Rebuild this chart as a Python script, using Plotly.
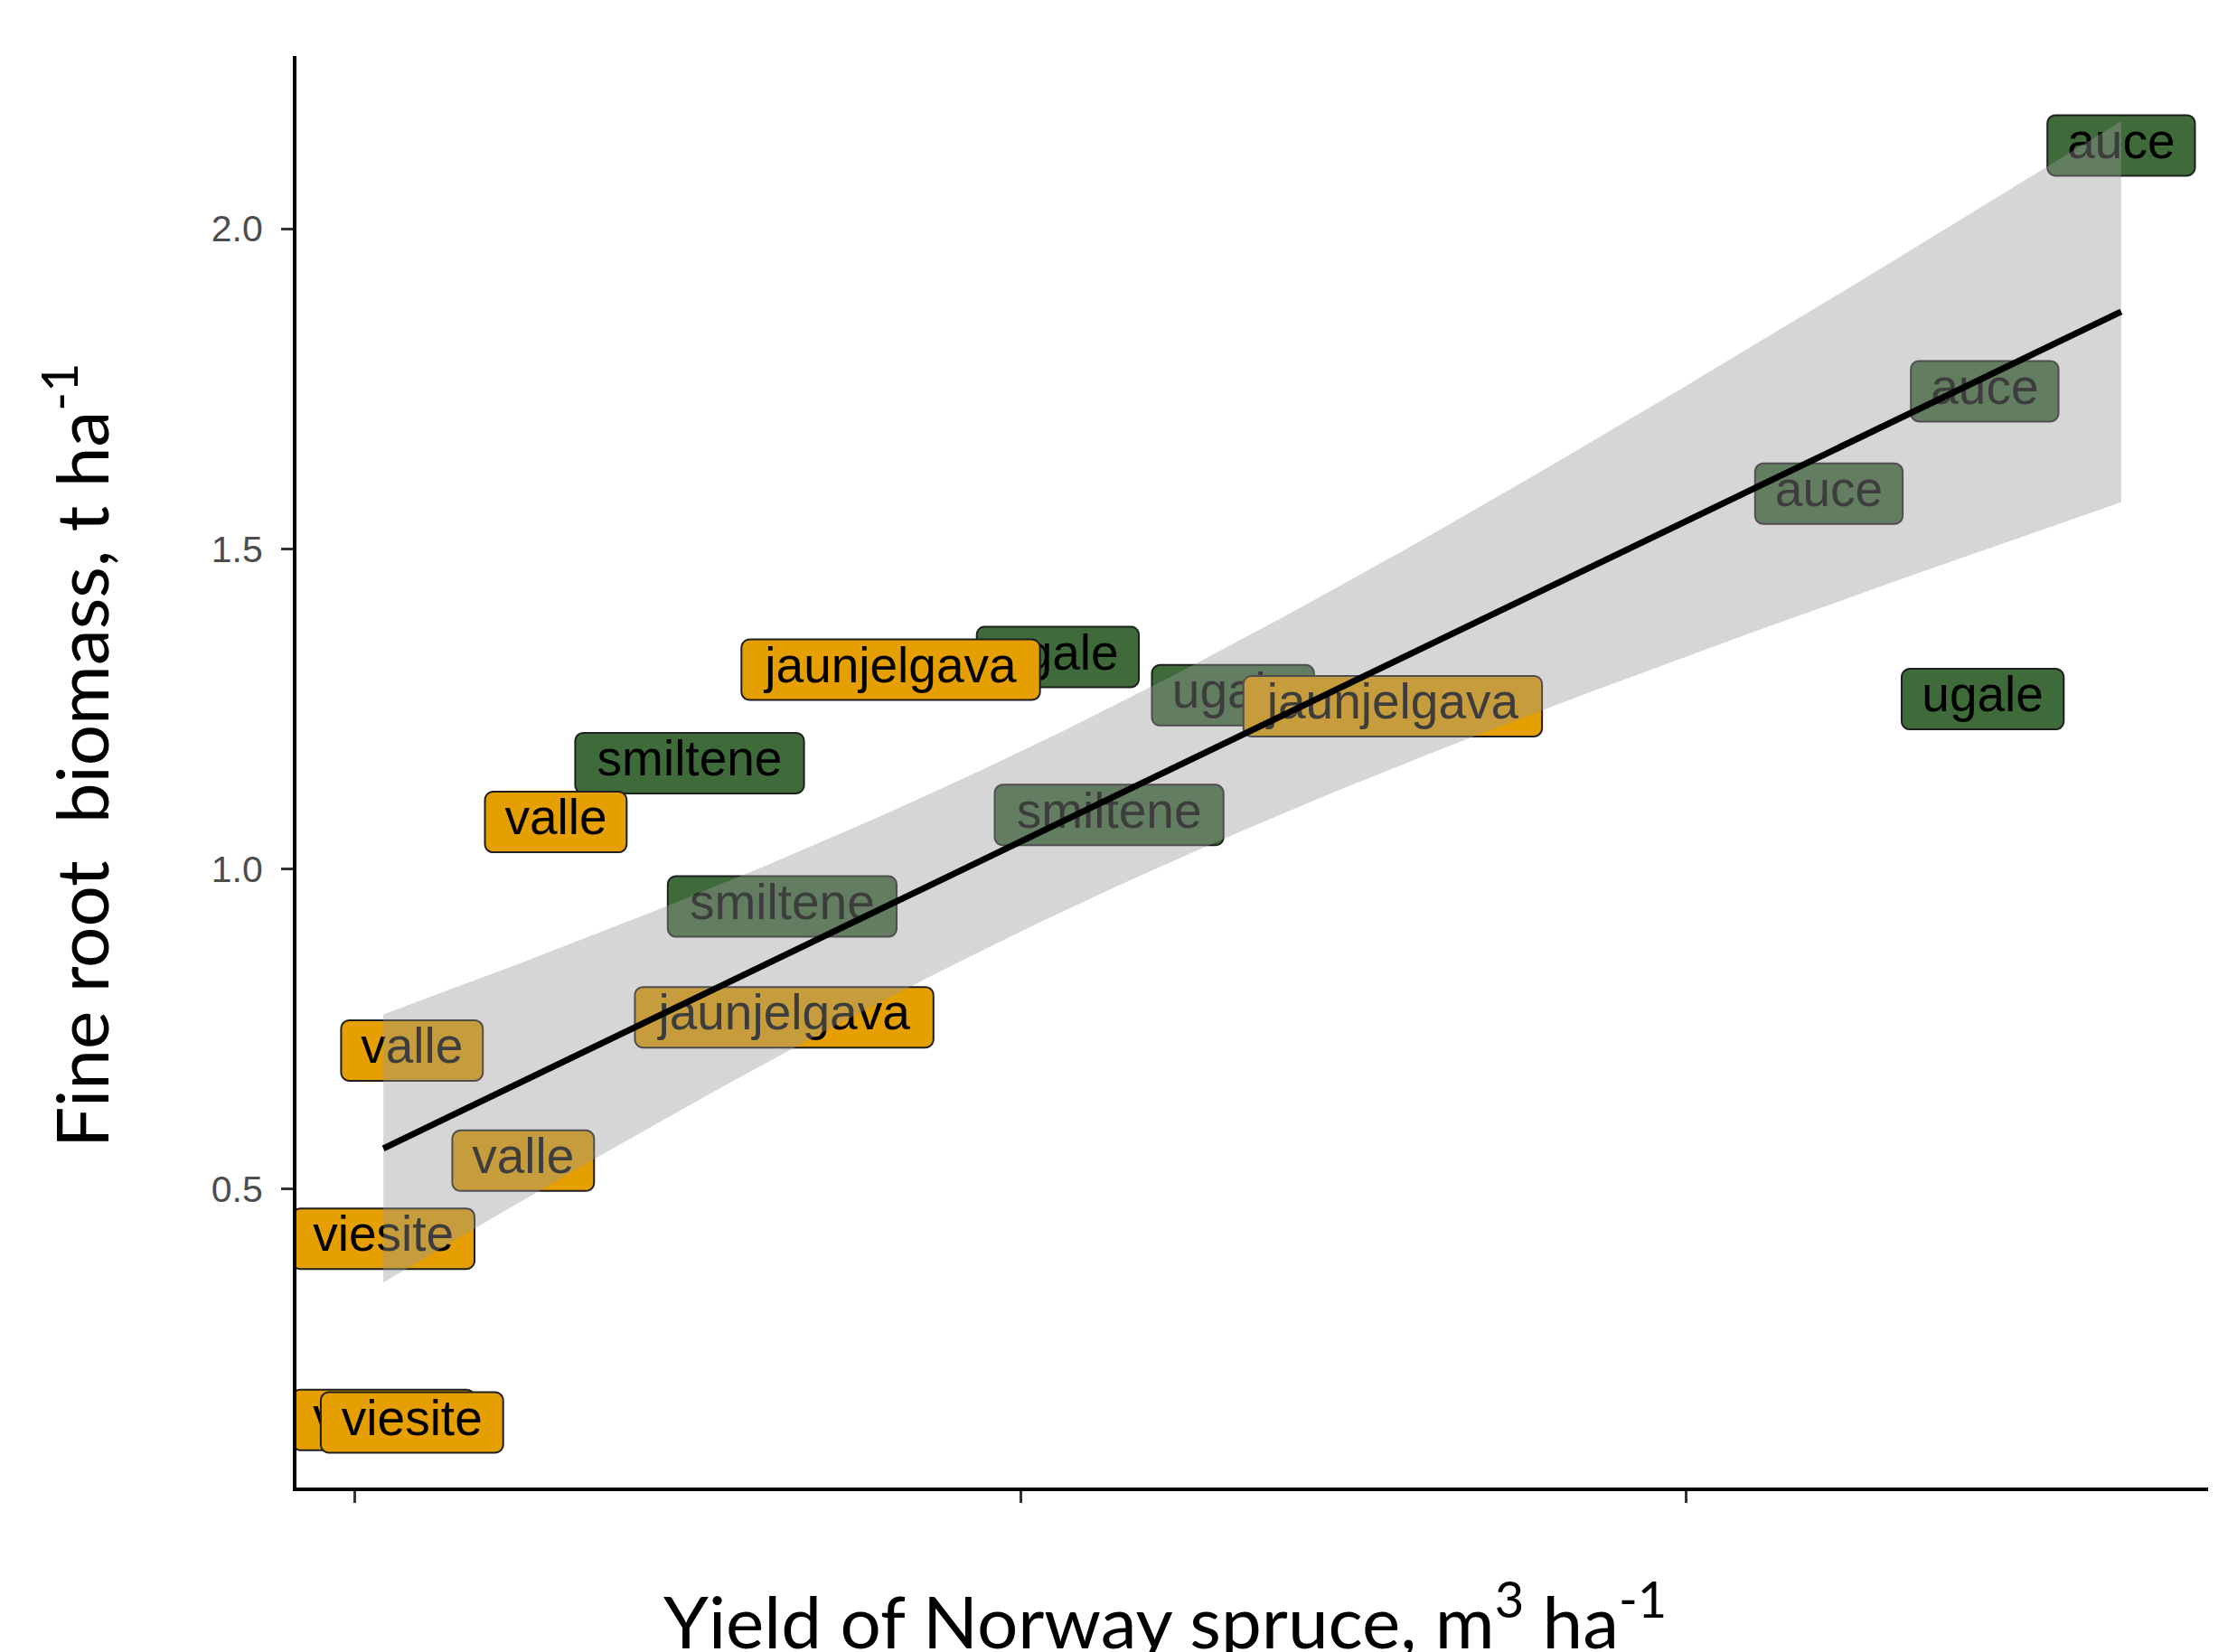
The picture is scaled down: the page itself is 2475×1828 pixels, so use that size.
import numpy as np
import plotly.graph_objects as go

# ---- data: stand yield vs fine root biomass, one label per stand ----
sites = ["auce", "auce", "auce",
         "ugale", "ugale", "ugale",
         "smiltene", "smiltene", "smiltene",
         "valle", "valle", "valle",
         "viesite", "viesite", "viesite",
         "jaunjelgava", "jaunjelgava", "jaunjelgava"]
yield_m3 = [365.3, 344.8, 321.4,
            344.5, 205.6, 231.9,
            150.3, 213.3, 164.2,
            130.2, 108.6, 125.3,
            104.3, 104.3, 108.6,
            180.5, 255.9, 164.5]
root_biomass = [2.130, 1.746, 1.586,
                1.265, 1.331, 1.271,
                1.165, 1.084, 0.941,
                1.073, 0.716, 0.544,
                0.422, 0.139, 0.135,
                1.311, 1.254, 0.768]
site_group = ["green"] * 9 + ["orange"] * 9

x_ticks = [100, 200, 300]
y_ticks = [0.5, 1.0, 1.5, 2.0]
y_tick_text = ["0.5", "1.0", "1.5", "2.0"]

# ---- style ----
W, H = 2475, 1828
M_L, M_R, M_T, M_B = 328, 32, 62, 182
PLOT_W, PLOT_H = W - M_L - M_R, H - M_T - M_B
FILL = {"green": "#3F6B3B", "orange": "#E69F00"}
LABEL_FONT = 55
BOX_H = 67
BOX_PAD = 19
PX_PER_EM = 57.8
CORNER = 9
# Arial advance widths (em) for the glyphs used in the labels
GLYPH_EM = {"a": .556, "u": .556, "c": .5, "e": .556, "g": .556, "l": .222,
            "j": .222, "n": .556, "v": .5, "s": .5, "m": .833, "i": .222,
            "t": .278}

x = np.array(yield_m3)
y = np.array(root_biomass)

# ---- linear model with 95% confidence band (80 evaluation points) ----
n = len(x)
slope, intercept = np.polyfit(x, y, 1)
resid = y - (intercept + slope * x)
s = np.sqrt(np.sum(resid ** 2) / (n - 2))
sxx = np.sum((x - x.mean()) ** 2)
T_CRIT = 2.119905  # t(0.975, df = 16)
xs = np.linspace(x.min(), x.max(), 80)
fit = intercept + slope * xs
se = s * np.sqrt(1.0 / n + (xs - x.mean()) ** 2 / sxx)
lower, upper = fit - T_CRIT * se, fit + T_CRIT * se

# axis limits: data (and band) range with 5% expansion
xr = [x.min(), x.max()]
yr = [min(y.min(), lower.min()), max(y.max(), upper.max())]
xpad = 0.05 * (xr[1] - xr[0])
ypad = 0.05 * (yr[1] - yr[0])
x_range = [xr[0] - xpad, xr[1] + xpad]
y_range = [yr[0] - ypad, yr[1] + ypad]
ux = (x_range[1] - x_range[0]) / PLOT_W   # data units per pixel
uy = (y_range[1] - y_range[0]) / PLOT_H


def rounded_box(cx, cy, w, h, r):
    """Rounded rectangle around (cx, cy), size in pixels, returned in data units."""
    pts = []
    corners = [(w / 2 - r, h / 2 - r, 0), (-w / 2 + r, h / 2 - r, 90),
               (-w / 2 + r, -h / 2 + r, 180), (w / 2 - r, -h / 2 + r, 270)]
    for ox, oy, a0 in corners:
        for a in np.linspace(a0, a0 + 90, 6):
            t = np.radians(a)
            pts.append((ox + r * np.cos(t), oy + r * np.sin(t)))
    pts.append(pts[0])
    bx = [cx + px * ux for px, _ in pts]
    by = [cy + py * uy for _, py in pts]
    return bx, by


fig = go.Figure()

# labels: box then text, in data order so later labels cover earlier ones
for name, xi, yi, grp in zip(sites, yield_m3, root_biomass, site_group):
    w = sum(GLYPH_EM[c] for c in name) * PX_PER_EM + 2 * BOX_PAD
    bx, by = rounded_box(xi, yi, w, BOX_H, CORNER)
    fig.add_trace(go.Scatter(x=bx, y=by, mode="lines", fill="toself",
                             fillcolor=FILL[grp],
                             line=dict(color="#1f1f1f", width=2),
                             hoverinfo="skip", showlegend=False))
    fig.add_trace(go.Scatter(x=[xi], y=[yi], mode="text", text=[name],
                             textposition="middle center",
                             textfont=dict(family="Liberation Sans, Arial",
                                           size=LABEL_FONT, color="black"),
                             hoverinfo="skip", showlegend=False))

# confidence band and fitted line on top
fig.add_trace(go.Scatter(x=np.concatenate([xs, xs[::-1]]),
                         y=np.concatenate([upper, lower[::-1]]),
                         mode="lines", fill="toself",
                         fillcolor="rgba(153,153,153,0.4)",
                         line=dict(width=0), hoverinfo="skip",
                         showlegend=False))
fig.add_trace(go.Scatter(x=xs, y=fit, mode="lines",
                         line=dict(color="black", width=7),
                         hoverinfo="skip", showlegend=False))


def paper_x(px):
    return (px - M_L) / PLOT_W


def paper_y(py):
    return (H - M_B - py) / PLOT_H


title_font = dict(family="Lato, Open Sans, sans-serif", size=80, color="black")
fig.add_annotation(text="Fine root\u00a0 biomass, t ha<sup>-1</sup>",
                   xref="paper", yref="paper",
                   x=paper_x(84), y=paper_y(836), textangle=-90,
                   xanchor="center", yanchor="middle", showarrow=False,
                   font=title_font)
fig.add_annotation(text="Yield of Norway spruce, m<sup>3</sup> ha<sup>-1</sup>",
                   xref="paper", yref="paper",
                   x=paper_x(1289), y=paper_y(1788),
                   xanchor="center", yanchor="middle", showarrow=False,
                   font=title_font)

fig.update_layout(
    width=W, height=H,
    margin=dict(l=M_L, r=M_R, t=M_T, b=M_B, pad=0),
    paper_bgcolor="white", plot_bgcolor="white",
    font=dict(family="Liberation Sans, Arial", color="#4D4D4D"),
    showlegend=False,
)
fig.update_xaxes(range=x_range, showgrid=False, zeroline=False,
                 showline=True, linecolor="black", linewidth=4,
                 ticks="outside", tickvals=x_ticks, ticklen=13,
                 tickwidth=3, tickcolor="#333333", showticklabels=False)
fig.update_yaxes(range=y_range, showgrid=False, zeroline=False,
                 showline=True, linecolor="black", linewidth=4,
                 ticks="outside", tickvals=y_ticks, ticktext=y_tick_text,
                 ticklen=13, tickwidth=3, tickcolor="#333333",
                 tickfont=dict(family="Liberation Sans, Arial", size=41,
                               color="#4D4D4D"),
                 ticklabelstandoff=12)

fig.write_html("out.html")
